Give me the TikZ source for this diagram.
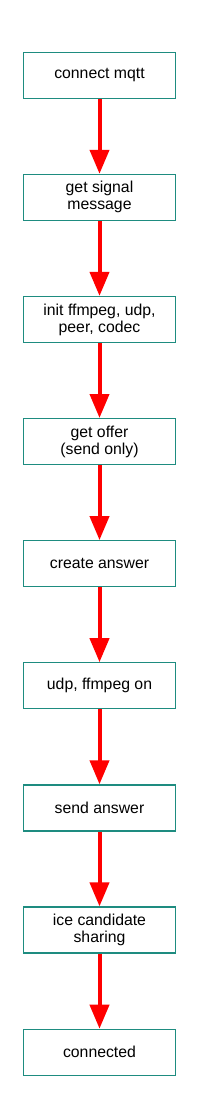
\documentclass[tikz,border=0pt]{standalone}
\usepackage{fontspec}
\setmainfont{Liberation Sans}
\usetikzlibrary{arrows.meta}
\definecolor{boxline}{RGB}{30,140,128}
\begin{document}
\begin{tikzpicture}[x=1pt,y=-1pt,
  stepbox/.style={draw=boxline,line width=1.2pt,minimum width=152pt,minimum height=46pt,inner sep=0pt,align=center,font=\fontsize{15.8}{17}\selectfont,fill=white},
  flow/.style={draw=red,line width=4pt,-{Triangle[width=19pt,length=24pt]}}]
\useasboundingbox (0,0) rectangle (203,1113);
\node[stepbox] (a) at (99.5,75.3) {connect mqtt};
\node[stepbox] (b) at (99.5,197.4) {get signal\\message};
\node[stepbox] (c) at (99.5,319.5) {init ffmpeg, udp,\\peer, codec};
\node[stepbox] (d) at (99.5,441.6) {get offer\\(send only)};
\node[stepbox] (e) at (99.5,563.7) {create answer};
\node[stepbox] (f) at (99.5,685.8) {udp, ffmpeg on};
\node[stepbox] (g) at (99.5,807.9) {send answer};
\node[stepbox] (h) at (99.5,930.0) {ice candidate\\sharing};
\node[stepbox] (i) at (99.5,1052.3) {connected};
\foreach \s/\t in {a/b,b/c,c/d,d/e,e/f,f/g,g/h,h/i}
  \draw[flow] (\s.south) -- (\t.north);
\end{tikzpicture}
\end{document}
